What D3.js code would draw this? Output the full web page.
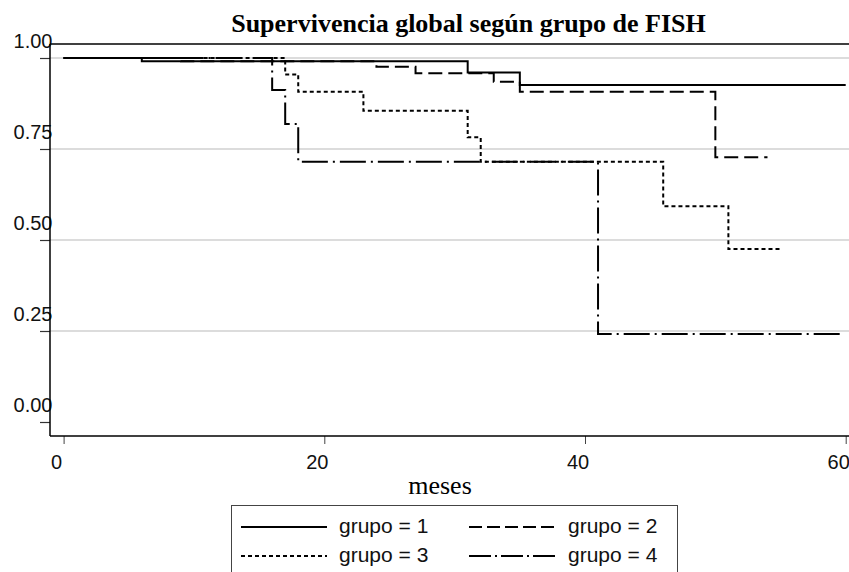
<!DOCTYPE html>
<html>
<head>
<meta charset="utf-8">
<script src="https://cdn.jsdelivr.net/npm/d3@7"></script>
<style>
  html, body { margin: 0; padding: 0; background: #fff; }
  svg { display: block; }
</style>
</head>
<body>
<svg id="chart" width="849" height="572"></svg>
<script>
// ---- data ----
const groupNames = ["grupo = 1", "grupo = 2", "grupo = 3", "grupo = 4"];
const g1Time = [0, 6, 31, 35, 60];
const g1Surv = [1, 0.991, 0.960, 0.926, 0.926];
const g2Time = [0, 9, 24, 27, 33, 35, 50, 54];
const g2Surv = [1, 0.991, 0.976, 0.958, 0.935, 0.907, 0.727, 0.727];
const g3Time = [0, 17, 18, 23, 31, 32, 46, 51, 55];
const g3Surv = [1, 0.955, 0.907, 0.855, 0.782, 0.715, 0.593, 0.475, 0.475];
const g4Time = [0, 16, 17, 18, 41, 59.8];
const g4Surv = [1, 0.912, 0.819, 0.715, 0.242, 0.242];
const xTicks = [0, 20, 40, 60];
const yTicks = [0, 0.25, 0.5, 0.75, 1];
const yTickLabels = ["0.00", "0.25", "0.50", "0.75", "1.00"];
const gridValues = [0.25, 0.5, 0.75, 1];
const titleText = "Supervivencia global según grupo de FISH";
const xTitle = "meses";

// ---- layout ----
const svg = d3.select("#chart");
const frame = { left: 50, top: 44, bottom: 436, right: 849 };
const x = d3.scaleLinear().domain([0, 60]).range([63.6, 845.7]);
const y = d3.scaleLinear().domain([0, 1]).range([422, 58]);

const series = [
  { name: groupNames[0], t: g1Time, s: g1Surv, dash: null },
  { name: groupNames[1], t: g2Time, s: g2Surv, dash: "14,6" },
  { name: groupNames[2], t: g3Time, s: g3Surv, dash: "4,3" },
  { name: groupNames[3], t: g4Time, s: g4Surv, dash: "26,5,2,5" }
];

// gridlines
svg.append("g").selectAll("line").data(gridValues).join("line")
  .attr("x1", frame.left).attr("x2", frame.right)
  .attr("y1", d => y(d)).attr("y2", d => y(d))
  .attr("stroke", "#dcdcdc").attr("stroke-width", 2);

// y axis
const yAxis = svg.append("g").attr("transform", `translate(${frame.left},0)`)
  .call(d3.axisLeft(y).tickValues(yTicks).tickSize(10).tickFormat((d, i) => yTickLabels[i]));
yAxis.select(".domain").remove();
yAxis.selectAll(".tick line").attr("stroke", "#333").attr("stroke-width", 1.2);
yAxis.selectAll(".tick text")
  .attr("x", 2.5).attr("y", -10.5).attr("dy", 0)
  .attr("text-anchor", "end")
  .style("font-family", "'Liberation Sans', Arial, sans-serif")
  .style("font-size", "20px").attr("fill", "#111");

// x axis
const xAxis = svg.append("g").attr("transform", `translate(0,${frame.bottom})`)
  .call(d3.axisBottom(x).tickValues(xTicks).tickSize(8).tickFormat(d3.format("d")));
xAxis.select(".domain").remove();
xAxis.selectAll(".tick line").attr("stroke", "#444").attr("stroke-width", 1);
xAxis.selectAll(".tick text")
  .attr("x", -7.5).attr("y", 33).attr("dy", 0)
  .style("font-family", "'Liberation Sans', Arial, sans-serif")
  .style("font-size", "20px").attr("fill", "#111");

// frame lines
svg.append("line").attr("x1", frame.left).attr("x2", frame.left)
  .attr("y1", frame.top).attr("y2", frame.bottom)
  .attr("stroke", "#000").attr("stroke-width", 1.5);
svg.append("line").attr("x1", frame.left).attr("x2", frame.right)
  .attr("y1", frame.top).attr("y2", frame.top)
  .attr("stroke", "#000").attr("stroke-width", 1.5);
svg.append("line").attr("x1", frame.left).attr("x2", frame.right)
  .attr("y1", frame.bottom).attr("y2", frame.bottom)
  .attr("stroke", "#000").attr("stroke-width", 1.5);

// survival curves
const line = d3.line().curve(d3.curveStepAfter)
  .x(d => x(d[0])).y(d => y(d[1]));
svg.append("g").selectAll("path").data(series).join("path")
  .attr("d", d => line(d.t.map((t, i) => [t, d.s[i]])))
  .attr("fill", "none").attr("stroke", "#000").attr("stroke-width", 2)
  .attr("stroke-dasharray", d => d.dash);

// title
svg.append("text").attr("x", 468.5).attr("y", 32).attr("text-anchor", "middle")
  .style("font-family", "'Liberation Serif', 'Times New Roman', serif")
  .style("font-size", "26px").style("font-weight", "bold").text(titleText);

// x title
svg.append("text").attr("x", 440).attr("y", 494).attr("text-anchor", "middle")
  .style("font-family", "'Liberation Serif', 'Times New Roman', serif")
  .style("font-size", "26px").text(xTitle);

// legend
const lg = svg.append("g");
lg.append("rect").attr("x", 231.5).attr("y", 505.5).attr("width", 446).attr("height", 120)
  .attr("fill", "none").attr("stroke", "#444").attr("stroke-width", 1);
const legPos = [
  { lx: 241, tx: 339, ly: 527 },
  { lx: 469, tx: 568, ly: 527 },
  { lx: 241, tx: 339, ly: 556 },
  { lx: 469, tx: 568, ly: 556 }
];
series.forEach((s, i) => {
  const p = legPos[i];
  lg.append("line").attr("x1", p.lx).attr("x2", p.lx + 86)
    .attr("y1", p.ly).attr("y2", p.ly)
    .attr("stroke", "#000").attr("stroke-width", 2)
    .attr("stroke-dasharray", i === 1 ? "13,5" : i === 3 ? "22,4,2,4" : s.dash);
  lg.append("text").attr("x", p.tx).attr("y", p.ly + 6)
    .style("font-family", "'Liberation Sans', Arial, sans-serif")
    .style("font-size", "21px").attr("fill", "#111").text(s.name);
});
</script>
</body>
</html>
